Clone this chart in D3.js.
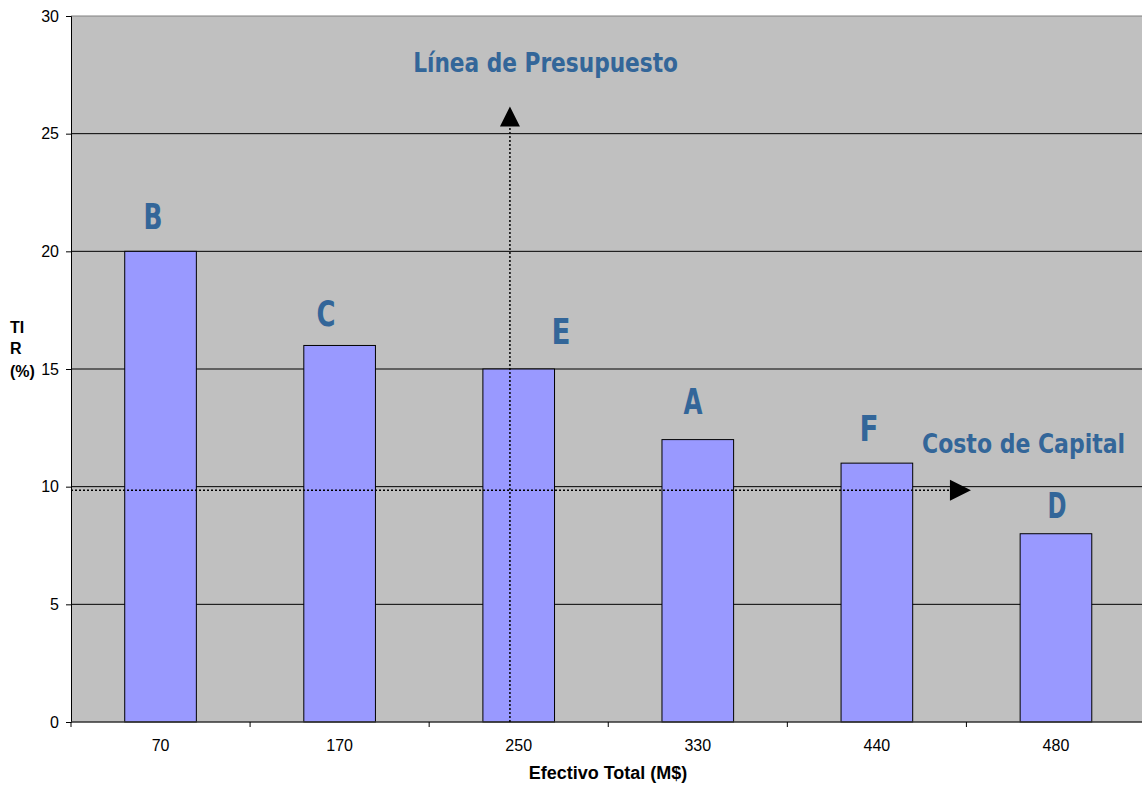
<!DOCTYPE html>
<html>
<head>
<meta charset="utf-8">
<script src="https://cdn.jsdelivr.net/npm/d3@7"></script>
<style>
  html, body { margin: 0; padding: 0; background: #fff; }
  svg { display: block; }
</style>
</head>
<body>
<svg id="chart" width="1142" height="787"></svg>
<script>
// ---- data ----
const categories = ["70", "170", "250", "330", "440", "480"];
const tirValues = [20, 16, 15, 12, 11, 8];
const projectLabels = ["B", "C", "E", "A", "F", "D"];
// label anchors in data units: [category-index position, value]
const labelIdx = [0.458, 1.424, 2.736, 3.473, 4.456, 5.506];
const labelVal = [20.95, 16.83, 16.05, 13.09, 11.94, 8.67];
const yTicks = [0, 5, 10, 15, 20, 25, 30];
// annotation lines
const budgetIdx = 2.451;     // "Línea de Presupuesto" vertical position (category index units)
const budgetTop = 25.3;      // arrow base value
const costValue = 9.85;      // "Costo de Capital" horizontal value
const costEndIdx = 4.908;    // arrow base position
const notes = [
  { text: "Línea de Presupuesto", idx: 2.650, val: 27.62, len: 265 },
  { text: "Costo de Capital", idx: 5.319, val: 11.43, len: 203 }
];

// ---- layout ----
const W = 1142, H = 787;
const margin = { top: 16, bottom: 65, left: 71 };
const plotRight = 1145.5;   // plot area runs slightly past the picture's right edge
const svg = d3.select("#chart");
const innerH = H - margin.top - margin.bottom;

const x = d3.scaleBand().domain(categories).range([margin.left, plotRight])
  .paddingInner(0.6).paddingOuter(0.3);
const xIdx = d3.scaleLinear().domain([0, categories.length]).range([margin.left, plotRight]);
const y = d3.scaleLinear().domain([0, 30]).range([H - margin.bottom, margin.top]);

const labelColor = "#336699";
const condFont = "'DejaVu Sans Condensed', 'DejaVu Sans', sans-serif";
const arial = "'Liberation Sans', Arial, sans-serif";

// plot area background
svg.append("rect")
  .attr("x", margin.left).attr("y", margin.top)
  .attr("width", plotRight - margin.left).attr("height", innerH)
  .attr("fill", "#C0C0C0");

// gridlines
svg.append("g").selectAll("line").data(yTicks.filter(d => d > 0)).join("line")
  .attr("x1", margin.left).attr("x2", plotRight)
  .attr("y1", d => y(d)).attr("y2", d => y(d))
  .attr("stroke", d => d === 30 ? "#808080" : "#000").attr("stroke-width", 1);

// bars
svg.append("g").selectAll("rect").data(categories).join("rect")
  .attr("x", d => x(d)).attr("width", x.bandwidth())
  .attr("y", (d, i) => y(tirValues[i]))
  .attr("height", (d, i) => y(0) - y(tirValues[i]))
  .attr("fill", "#9999FF").attr("stroke", "#000").attr("stroke-width", 1);

// y axis
const yAxis = d3.axisLeft(y).tickValues(yTicks).tickSize(5).tickPadding(7);
const gy = svg.append("g").attr("transform", `translate(${margin.left},0)`).call(yAxis);
gy.attr("font-size", null).attr("font-family", null);
gy.select(".domain").attr("stroke", "#000");
gy.selectAll(".tick line").attr("stroke", "#000");
gy.selectAll("text").style("font-family", arial)
  .style("font-size", "16px").attr("fill", "#000");

// x axis: ticks between categories
const bounds = d3.range(categories.length + 1);
const gx = svg.append("g");
gx.append("line").attr("x1", margin.left).attr("x2", plotRight)
  .attr("y1", y(0)).attr("y2", y(0)).attr("stroke", "#333").attr("stroke-width", 1.5);
gx.selectAll("line.tk").data(bounds).join("line").attr("class", "tk")
  .attr("x1", d => xIdx(d)).attr("x2", d => xIdx(d))
  .attr("y1", y(0)).attr("y2", y(0) + 5).attr("stroke", "#000");
gx.selectAll("text").data(categories).join("text")
  .attr("x", d => x(d) + x.bandwidth() / 2).attr("y", y(0) + 29)
  .attr("text-anchor", "middle")
  .style("font-family", arial).style("font-size", "16px")
  .text(d => d);

// axis titles
svg.append("text").attr("x", 608).attr("y", 779).attr("text-anchor", "middle")
  .style("font-family", arial).style("font-size", "18px")
  .attr("font-weight", "bold").text("Efectivo Total (M$)");
const yt = svg.append("text").style("font-family", arial)
  .style("font-size", "16px").attr("font-weight", "bold");
[["TI", 333], ["R", 354], ["(%)", 377]].forEach(([t, yy]) => {
  yt.append("tspan").attr("x", 10).attr("y", yy).text(t);
});

// dotted annotation lines
const ann = svg.append("g");
const bx = xIdx(budgetIdx);
ann.append("line").attr("x1", bx).attr("x2", bx)
  .attr("y1", y(0)).attr("y2", y(budgetTop))
  .attr("stroke", "#000").attr("stroke-width", 1.5).attr("stroke-dasharray", "2,2");
ann.append("path")
  .attr("d", `M${bx - 10},${y(budgetTop)} L${bx + 10},${y(budgetTop)} L${bx},${y(budgetTop) - 20} Z`)
  .attr("fill", "#000");
const cy = y(costValue);
const cx = xIdx(costEndIdx);
ann.append("line").attr("x1", margin.left).attr("x2", cx)
  .attr("y1", cy).attr("y2", cy)
  .attr("stroke", "#000").attr("stroke-width", 1.5).attr("stroke-dasharray", "2,2");
ann.append("path")
  .attr("d", `M${cx},${cy - 10.5} L${cx},${cy + 10.5} L${cx + 21},${cy} Z`)
  .attr("fill", "#000");

// helper: horizontally squeeze a centred text to a target width
function squeeze(sel, cxF, cyF, lenF) {
  sel.each(function(d, i) {
    const t = d3.select(this);
    const w = this.getComputedTextLength();
    const s = lenF(d, i) / w;
    t.attr("x", 0).attr("y", 0)
      .attr("transform", `translate(${cxF(d, i)},${cyF(d, i)}) scale(${s},1)`);
  });
}

// project labels
const pl = svg.append("g").selectAll("text").data(projectLabels).join("text")
  .attr("text-anchor", "middle")
  .attr("font-family", condFont).attr("font-weight", "bold").attr("font-size", 36)
  .attr("fill", labelColor)
  .text(d => d);
squeeze(pl, (d, i) => xIdx(labelIdx[i]), (d, i) => y(labelVal[i]), () => 19);

// notes
const nt = svg.append("g").selectAll("text").data(notes).join("text")
  .attr("text-anchor", "middle")
  .attr("font-family", condFont).attr("font-weight", "bold").attr("font-size", 27)
  .attr("fill", labelColor)
  .text(d => d.text);
squeeze(nt, d => xIdx(d.idx), d => y(d.val), d => d.len);
</script>
</body>
</html>
